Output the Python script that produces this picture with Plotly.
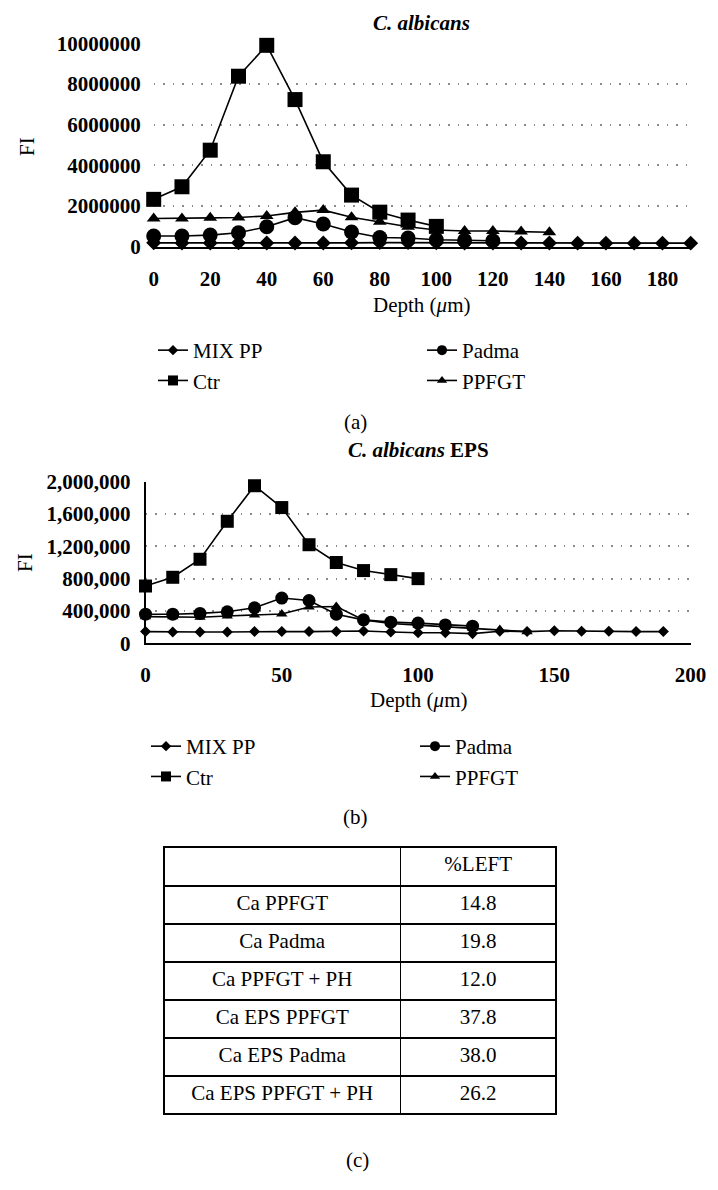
import plotly.graph_objects as go

# ---------------- data ----------------
depth = [0, 10, 20, 30, 40, 50, 60, 70, 80, 90, 100, 110, 120, 130, 140, 150, 160, 170, 180, 190]

# (a) C. albicans
mix_a = [190000, 185000, 185000, 190000, 185000, 185000, 185000, 190000, 200000, 200000,
         190000, 185000, 185000, 180000, 180000, 175000, 175000, 175000, 175000, 175000]
ctr_a = [2330000, 2950000, 4750000, 8390000, 9910000, 7240000, 4180000, 2540000, 1700000, 1310000, 1000000]
padma_a = [530000, 530000, 570000, 690000, 980000, 1430000, 1120000, 720000, 450000, 430000, 340000, 310000, 290000]
ppfgt_a = [1390000, 1390000, 1420000, 1440000, 1510000, 1690000, 1800000, 1450000, 1230000, 980000,
           820000, 770000, 770000, 750000, 710000]

# (b) C. albicans EPS
mix_b = [145000, 140000, 140000, 140000, 145000, 145000, 145000, 145000, 152000, 140000,
         130000, 130000, 120000, 150000, 145000, 155000, 150000, 148000, 145000, 145000]
ctr_b = [709000, 817000, 1040000, 1510000, 1950000, 1680000, 1220000, 1000000, 900000, 850000, 800000]
padma_b = [360000, 360000, 370000, 390000, 440000, 560000, 530000, 360000, 290000, 262000, 250000, 228000, 212000]
ppfgt_b = [330000, 330000, 322000, 338000, 350000, 363000, 450000, 455000, 290000, 245000,
           225000, 205000, 190000, 170000, 144000]

# (c) table
table_rows = ["Ca PPFGT", "Ca Padma", "Ca PPFGT + PH", "Ca EPS PPFGT", "Ca EPS Padma", "Ca EPS PPFGT + PH"]
table_left = [14.8, 19.8, 12.0, 37.8, 38.0, 26.2]
table_header = ["", "%LEFT"]

series_names = ["MIX PP", "Ctr", "Padma", "PPFGT"]
series_symbols = {"MIX PP": "diamond", "Ctr": "square", "Padma": "circle", "PPFGT": "triangle-up"}

# ---------------- layout helpers ----------------
W, H = 718, 1190
OFF = 8  # page body margin offset
SERIF = "Liberation Serif"


def px(x):
    return (x - OFF) / W


def py(y):
    return 1 - (y - OFF) / H


fig = go.Figure()


def add_series(name, ys, xaxis, yaxis, size):
    fig.add_trace(go.Scatter(
        x=depth[:len(ys)], y=ys, name=name, mode="lines+markers",
        xaxis=xaxis, yaxis=yaxis, showlegend=False,
        line=dict(color="black", width=1.6),
        marker=dict(color="black", size=size, symbol=series_symbols[name], line=dict(width=0)),
        cliponaxis=False,
    ))


def add_legend_entry(name, legend, rank, size):
    # legend key only (no data drawn)
    fig.add_trace(go.Scatter(
        x=[None], y=[None], name=name, mode="lines+markers",
        legend=legend, legendrank=rank, showlegend=True,
        line=dict(color="black", width=1.6),
        marker=dict(color="black", size=size, symbol=series_symbols[name], line=dict(width=0)),
    ))


# chart (a)
add_series("PPFGT", ppfgt_a, "x", "y", 12)
add_series("Padma", padma_a, "x", "y", 15)
add_series("MIX PP", mix_a, "x", "y", 11.5)
add_series("Ctr", ctr_a, "x", "y", 15)

# chart (b)
add_series("PPFGT", ppfgt_b, "x2", "y2", 10)
add_series("Padma", padma_b, "x2", "y2", 13)
add_series("MIX PP", mix_b, "x2", "y2", 8.5)
add_series("Ctr", ctr_b, "x2", "y2", 13)

legend_sizes = {"MIX PP": 8, "Ctr": 10, "Padma": 10, "PPFGT": 9}
for lg_left, lg_right in (("legend", "legend2"), ("legend3", "legend4")):
    for i, name in enumerate(series_names):
        add_legend_entry(name, lg_left if i < 2 else lg_right, i % 2 + 1, legend_sizes[name])

# table (c)
fig.add_trace(go.Table(
    domain=dict(x=[px(164), px(557)], y=[py(1116), py(847)]),
    columnwidth=[237, 156],
    header=dict(values=table_header, height=39, align="center",
                line=dict(color="black", width=1.5), fill=dict(color="white"),
                font=dict(family=SERIF, size=21, color="black")),
    cells=dict(values=[table_rows, [f"{v:.1f}" for v in table_left]], height=38, align="center",
               line=dict(color="black", width=1.5), fill=dict(color="white"),
               font=dict(family=SERIF, size=21, color="black")),
))

tickfont = dict(family=SERIF, size=21, color="black", weight="bold")
gridstyle = dict(showgrid=True, gridcolor="#8a8a8a", gridwidth=1.5, griddash="1.5px,8px")

legend_common = dict(font=dict(family=SERIF, size=21, color="black"), bgcolor="rgba(0,0,0,0)",
                     itemsizing="trace", xanchor="left", yanchor="top", tracegroupgap=0)

fig.update_layout(
    width=W, height=H, margin=dict(l=0, r=0, t=0, b=0, autoexpand=False),
    paper_bgcolor="white", plot_bgcolor="white",
    xaxis=dict(domain=[px(153.7), px(690.7)], range=[0, 190], dtick=20, tick0=0, automargin=False,
               showline=True, linecolor="black", linewidth=2, zeroline=False, showgrid=False,
               ticks="", ticklabelstandoff=12, tickfont=tickfont, anchor="y"),
    yaxis=dict(domain=[py(246.7), py(43.5)], range=[0, 10000000], dtick=2000000, tickformat="d",
               automargin=False, showline=False, zeroline=False, ticks="", ticklabelstandoff=12,
               tickfont=tickfont, anchor="x", **gridstyle),
    xaxis2=dict(domain=[px(145.5), px(690.6)], range=[0, 200], dtick=50, tick0=0, automargin=False,
                showline=True, linecolor="black", linewidth=1.6, zeroline=False, showgrid=False,
                ticks="", ticklabelstandoff=12, tickfont=tickfont, anchor="y2"),
    yaxis2=dict(domain=[py(643.3), py(481.7)], range=[0, 2000000], dtick=400000, tickformat=",d",
                automargin=False, showline=True, linecolor="black", linewidth=1.6, zeroline=False,
                ticks="", ticklabelstandoff=9, tickfont=tickfont, anchor="x2", **gridstyle),
    legend=dict(x=px(153), y=py(330), **legend_common),
    legend2=dict(x=px(422), y=py(330), **legend_common),
    legend3=dict(x=px(146), y=py(726), **legend_common),
    legend4=dict(x=px(415), y=py(726), **legend_common),
)

ann_font = dict(family=SERIF, size=21, color="black")
annotations = [
    dict(x=px(422), y=py(23), text="<b><i>C. albicans</i></b>"),
    dict(x=px(27), y=py(147), text="FI", textangle=-90),
    dict(x=px(422), y=py(305), text="Depth (<i>μ</i>m)"),
    dict(x=px(355), y=py(421.7), text="(a)"),
    dict(x=px(418), y=py(450), text="<b><i>C. albicans</i> EPS</b>"),
    dict(x=px(25), y=py(563), text="FI", textangle=-90),
    dict(x=px(418), y=py(700), text="Depth (<i>μ</i>m)"),
    dict(x=px(355), y=py(816.7), text="(b)"),
    dict(x=px(357), y=py(1160), text="(c)"),
]
for a in annotations:
    a.update(xref="paper", yref="paper", showarrow=False, xanchor="center", yanchor="middle", font=ann_font)
fig.update_layout(annotations=annotations)

fig.write_html("out.html")
